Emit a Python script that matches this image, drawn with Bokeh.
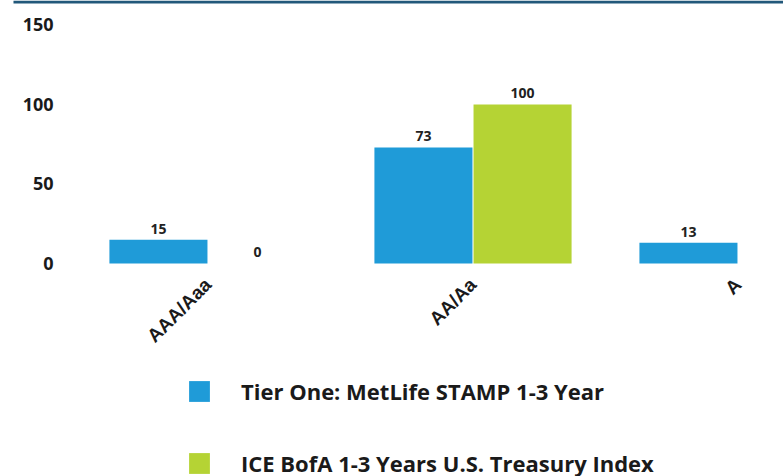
import math
from bokeh.plotting import figure
from bokeh.models import (ColumnDataSource, Range1d, FixedTicker, LabelSet,
                          Legend, LegendItem, BoxAnnotation)
from bokeh.core.properties import value
from bokeh.transform import dodge
from bokeh.embed import file_html
from bokeh.resources import INLINE

categories = ["AAA/Aaa", "AA/Aa", "A"]
metlife = [15, 73, 13]
ice = [0, 100, 0]
series_names = ["Tier One: MetLife STAMP 1-3 Year",
                "ICE BofA 1-3 Years U.S. Treasury Index"]
y_ticks = [0, 50, 100, 150]

BLUE = "#1f9bd8"
GREEN = "#b5d334"

src = ColumnDataSource(dict(
    x=list(range(len(categories))),
    metlife=metlife,
    ice=ice,
    metlife_txt=[str(v) for v in metlife],
    ice_txt=[str(v) for v in ice],
))

p = figure(width=783, height=476, output_backend="svg", toolbar_location=None,
           x_range=Range1d(-0.783, 2.1717), y_range=Range1d(-133.96, 165.4),
           min_border_left=0, min_border_right=0, min_border_top=0,
           min_border_bottom=0)
p.outline_line_color = None
p.grid.visible = False
p.background_fill_color = "white"
p.border_fill_color = "white"

off = 0.187
w = 0.37
r1 = p.vbar(x=dodge("x", -off), top="metlife", width=w, source=src,
            fill_color=BLUE, line_color=None)
r2 = p.vbar(x=dodge("x", off), top="ice", width=w, source=src,
            fill_color=GREEN, line_color=None)

for col, txt, o in (("metlife", "metlife_txt", -off), ("ice", "ice_txt", off)):
    p.add_layout(LabelSet(x=dodge("x", o), y=col, text=txt, source=src,
                          y_offset=11, text_align="center",
                          text_baseline="middle", text_font=value("Open Sans"),
                          text_font_style="bold", text_font_size="14px",
                          text_color="#222222"))

# y axis (inside frame)
ya = p.yaxis[0]
ya.fixed_location = -0.549
ya.ticker = FixedTicker(ticks=y_ticks)
ya.axis_line_color = None
ya.major_tick_line_color = None
ya.minor_tick_line_color = None
ya.major_tick_out = 0
ya.major_tick_in = 0
ya.major_label_standoff = 9
ya.major_label_text_font = "Open Sans"
ya.major_label_text_font_style = "bold"
ya.major_label_text_font_size = "18px"
ya.major_label_text_color = "#1a1a1a"

# x axis (inside frame at y = 0)
xa = p.xaxis[0]
xa.fixed_location = 0
xa.ticker = FixedTicker(ticks=list(range(len(categories))))
xa.major_label_overrides = {i: c for i, c in enumerate(categories)}
xa.axis_line_color = None
xa.major_tick_line_color = None
xa.minor_tick_line_color = None
xa.major_tick_out = 0
xa.major_tick_in = 0
xa.major_label_orientation = math.pi / 4
xa.major_label_standoff = 18
xa.major_label_text_font = "Liberation Sans"
xa.major_label_text_font_style = "bold"
xa.major_label_text_font_size = "19px"
xa.major_label_text_color = "#1a1a1a"

# top rule
p.add_layout(BoxAnnotation(left=-0.734, top=165.4, bottom=163.5,
                           fill_color="#22587a", fill_alpha=1,
                           line_color=None))

legend = Legend(items=[LegendItem(label=series_names[0], renderers=[r1]),
                       LegendItem(label=series_names[1], renderers=[r2])],
                location=(186, -3), orientation="vertical",
                glyph_width=26, glyph_height=26, label_height=32,
                spacing=40, padding=0, margin=0, label_standoff=29,
                border_line_color=None, background_fill_alpha=0,
                label_text_font="Open Sans", label_text_font_style="bold",
                label_text_font_size="22px", label_text_color="#1a1a1a")
p.add_layout(legend, "center")

open("out.html", "w").write(file_html(p, INLINE))
